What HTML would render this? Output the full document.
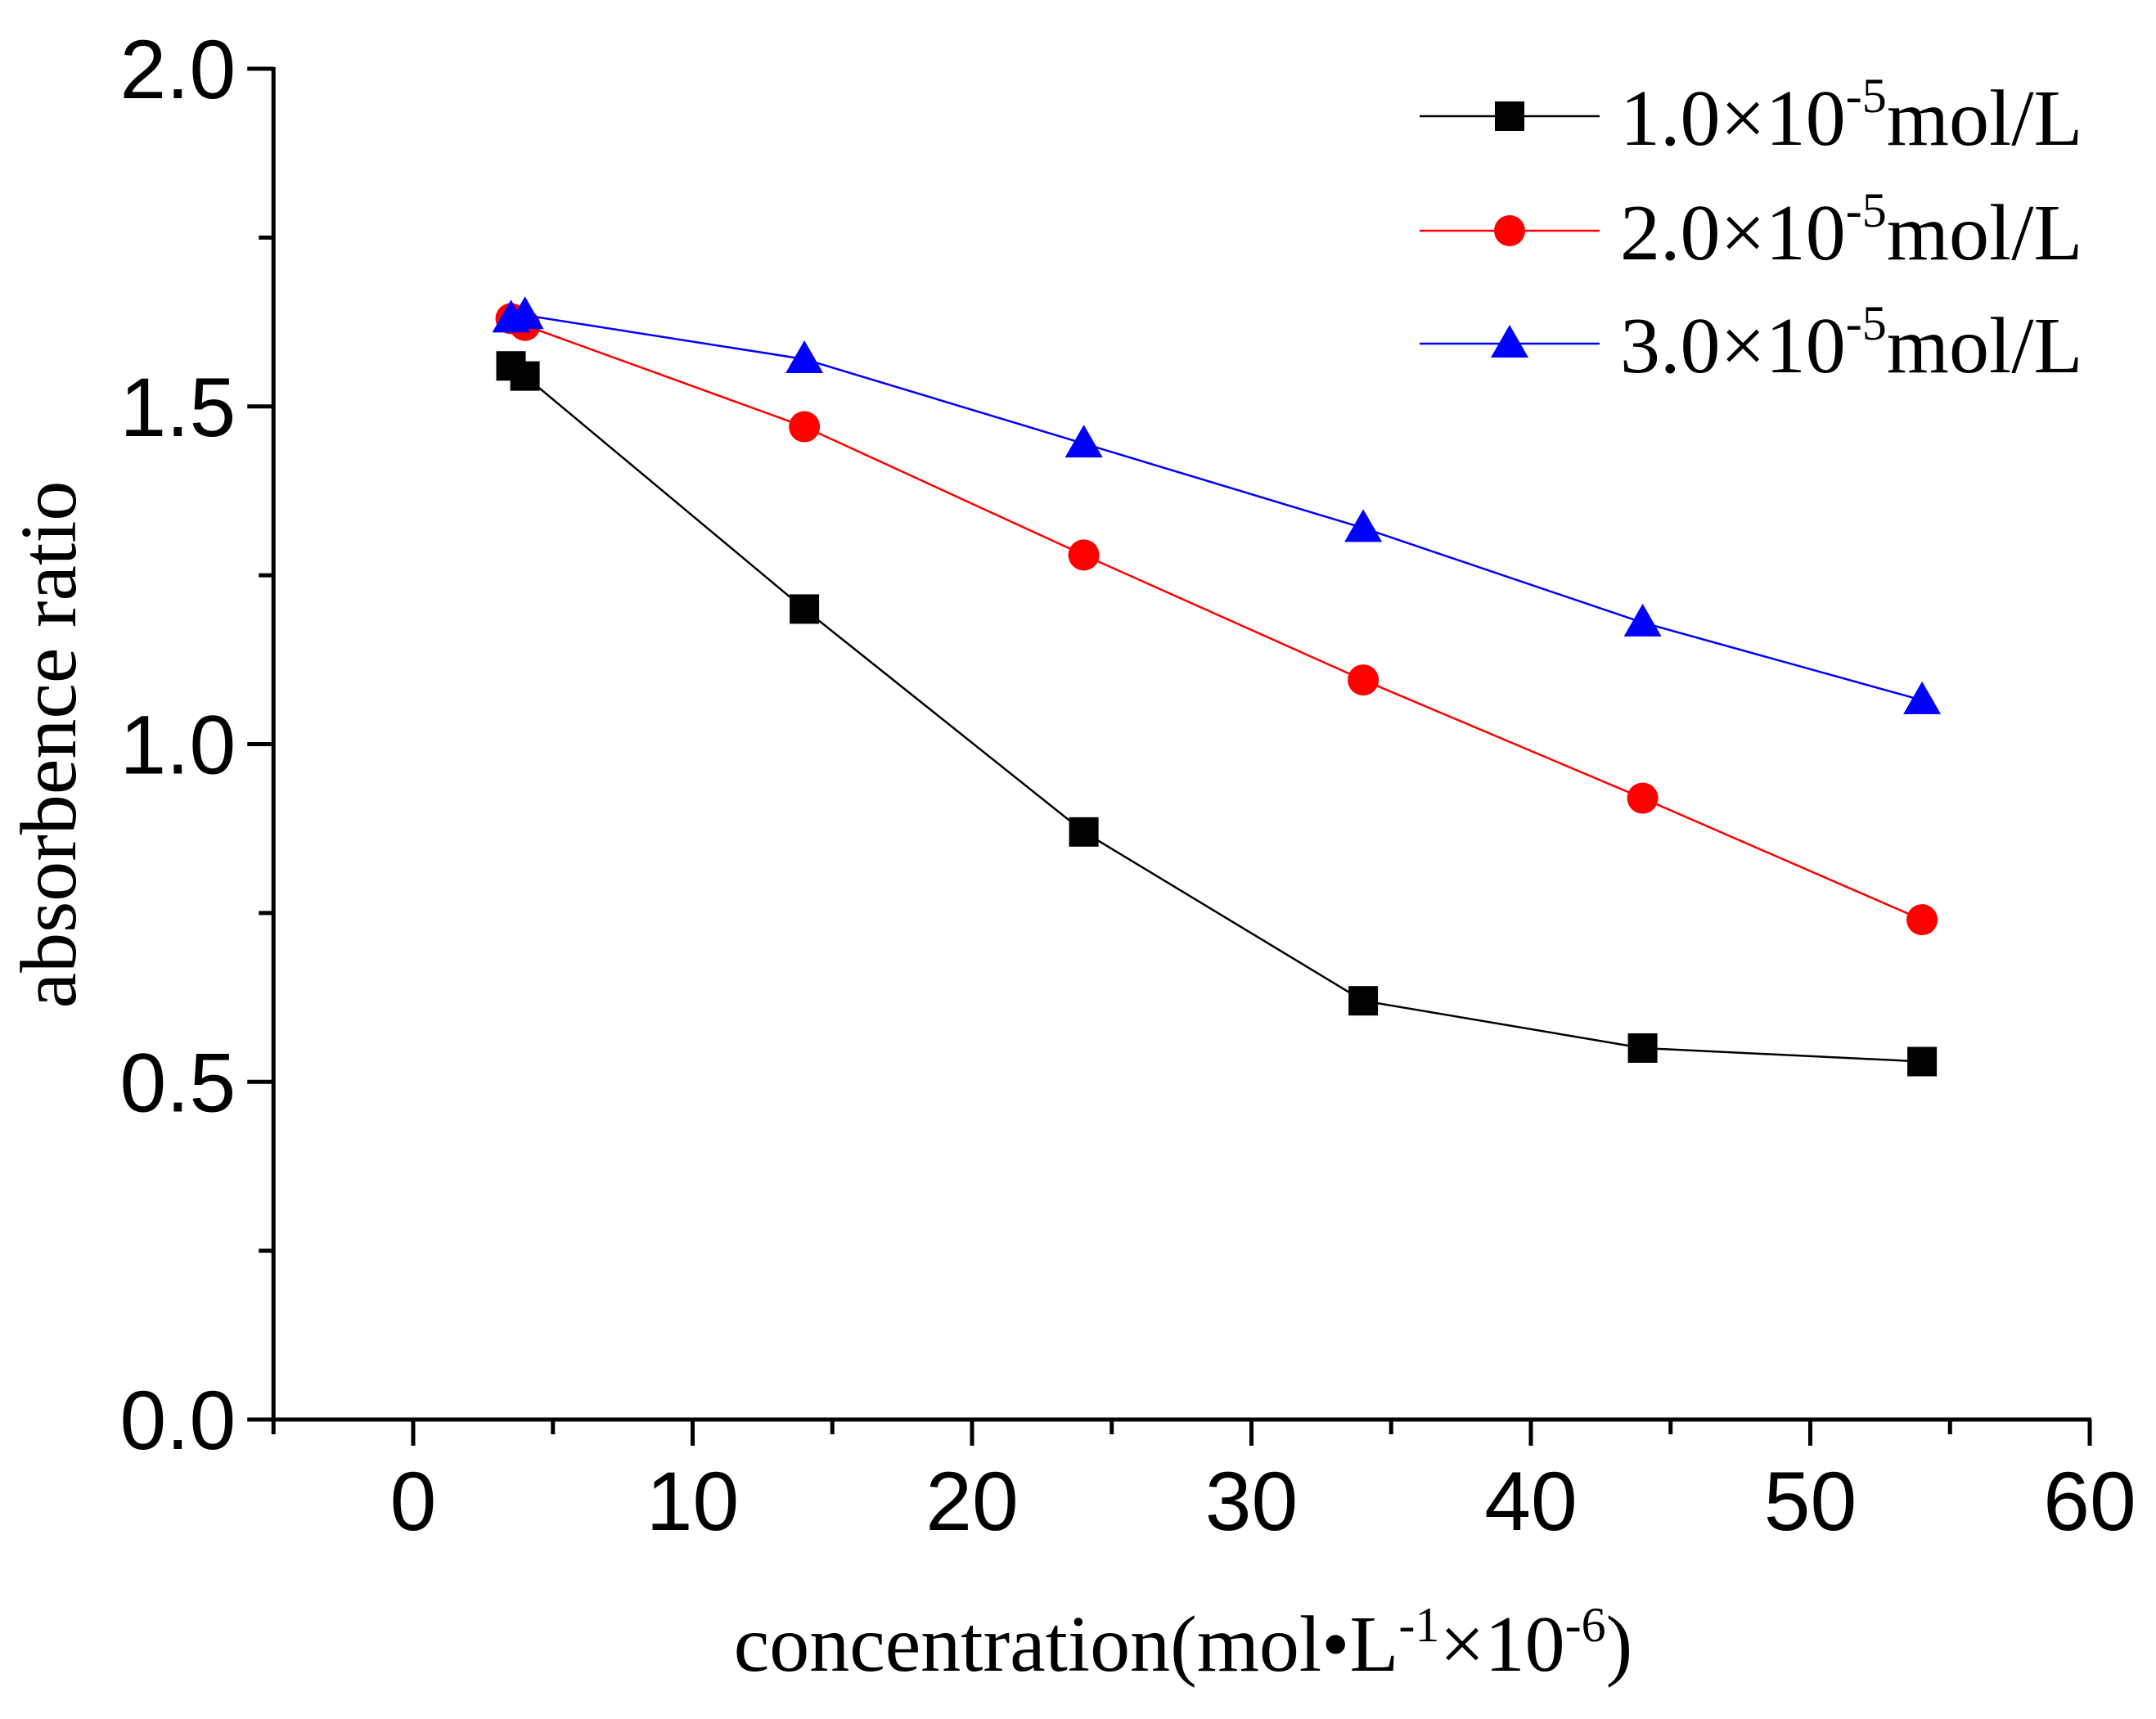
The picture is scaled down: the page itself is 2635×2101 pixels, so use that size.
<!DOCTYPE html>
<html><head><meta charset="utf-8"><style>
html,body{margin:0;padding:0;background:#fff;}
svg{display:block;}
</style></head><body>
<svg id="chart" width="2635" height="2101" viewBox="0 0 2635 2101" xmlns="http://www.w3.org/2000/svg">
<g id="axes"></g>
<g id="series"></g>
<text transform="translate(92,910) rotate(-90)" text-anchor="middle" font-family="Liberation Serif, serif" font-size="98">absorbence ratio</text>
<text x="1446" y="2042" text-anchor="middle" font-family="Liberation Serif, serif" font-size="98">concentration(mol•L<tspan dy="-36" font-size="60">-1</tspan><tspan dy="36">×10</tspan><tspan dy="-36" font-size="60">-6</tspan><tspan dy="36">)</tspan></text>
<g id="legend"></g>
</svg>
<script>
const xData = [3.5, 4, 14, 24, 34, 44, 54];
const seriesBlack = [1.56, 1.545, 1.20, 0.87, 0.62, 0.55, 0.53];
const seriesRed = [1.63, 1.62, 1.47, 1.28, 1.095, 0.92, 0.74];
const seriesBlue = [1.63, 1.635, 1.57, 1.445, 1.32, 1.18, 1.065];
const seriesLabels = ["1.0×10", "2.0×10", "3.0×10"];
const xTicks = [0, 10, 20, 30, 40, 50, 60];
const yTicks = [0.0, 0.5, 1.0, 1.5, 2.0];

const NS = "http://www.w3.org/2000/svg";
const X0 = 505, XS = (2554 - 505) / 60;
const Y0 = 1735, YS = (1735 - 84) / 2;
function xp(v){ return X0 + v * XS; }
function yp(v){ return Y0 - v * YS; }
function mk(tag, attrs, parent){
  const e = document.createElementNS(NS, tag);
  for (const k in attrs) e.setAttribute(k, attrs[k]);
  parent.appendChild(e);
  return e;
}
const axes = document.getElementById('axes');
let e;
e = mk('line', {x1: xp(-5), y1: yp(0), x2: xp(60)+2, y2: yp(0), stroke: '#000', 'stroke-width': 5}, axes);


e = mk('line', {x1: xp(-5), y1: yp(0)+2, x2: xp(-5), y2: yp(2)-2, stroke: '#000', 'stroke-width': 5}, axes);


for (let v = -5; v <= 60; v += 5) {
  const major = v % 10 === 0;
  e = mk('line', {x1: xp(v), y1: yp(0), x2: xp(v), y2: yp(0) + (major ? 32 : 18), stroke: '#000', 'stroke-width': 5}, axes);
  
  
}
xTicks.forEach(v => {
  e = mk('text', {x: xp(v), y: yp(0) + 135, 'text-anchor': 'middle', 'font-family': 'Liberation Sans, sans-serif', 'font-size': 102}, axes);
  e.textContent = String(v);
  
  
});
for (let v = 0; v <= 2.001; v += 0.25) {
  const major = Math.abs((v * 2) - Math.round(v * 2)) < 1e-6;
  e = mk('line', {x1: xp(-5), y1: yp(v), x2: xp(-5) - (major ? 32 : 18), y2: yp(v), stroke: '#000', 'stroke-width': 5}, axes);
  
  
}
yTicks.forEach(v => {
  e = mk('text', {x: xp(-5) - 46, y: yp(v) + 36, 'text-anchor': 'end', 'font-family': 'Liberation Sans, sans-serif', 'font-size': 102}, axes);
  e.textContent = v.toFixed(1);
  
  
});

const sg = document.getElementById('series');
function marker(shape, color, cx, cy, parent){
  let m;
  if (shape === 'square') m = mk('rect', {x: cx-18, y: cy-18, width: 36, height: 36, fill: color}, parent);
  else if (shape === 'circle') m = mk('circle', {cx: cx, cy: cy, r: 19, fill: color}, parent);
  else m = mk('polygon', {points: `${cx},${cy-23} ${cx+23},${cy+17} ${cx-23},${cy+17}`, fill: color}, parent);
  return m;
}
const defs = [
  {vals: seriesBlack, color: '#000', shape: 'square', name: 'series-1e-5'},
  {vals: seriesRed, color: '#ff0000', shape: 'circle', name: 'series-2e-5'},
  {vals: seriesBlue, color: '#0000ff', shape: 'triangle', name: 'series-3e-5'}
];
defs.forEach(d => {
  const g = mk('g', {}, sg);
  
  
  const pts = d.vals.map((v, i) => xp(xData[i]) + ',' + yp(v)).join(' ');
  const pl = mk('polyline', {points: pts, fill: 'none', stroke: d.color, 'stroke-width': 2.5}, g);
  
  
  d.vals.forEach((v, i) => {
    const m = marker(d.shape, d.color, xp(xData[i]), yp(v), g);
    
    
  });
});

const lg = document.getElementById('legend');
const rowY = [142, 282, 420];
defs.forEach((d, i) => {
  const g = mk('g', {}, lg);
  
  
  mk('line', {x1: 1735, y1: rowY[i], x2: 1955, y2: rowY[i], stroke: d.color, 'stroke-width': 2.5}, g);
  marker(d.shape, d.color, 1845, rowY[i], g);
  const t = mk('text', {x: 1980, y: rowY[i] + 35, 'font-family': 'Liberation Serif, serif', 'font-size': 98}, g);
  t.appendChild(document.createTextNode(seriesLabels[i]));
  const s1 = mk('tspan', {dy: -40, 'font-size': 60}, t); s1.textContent = '-5';
  const s2 = mk('tspan', {dy: 40}, t); s2.textContent = 'mol/L';
});
</script>
</body></html>
